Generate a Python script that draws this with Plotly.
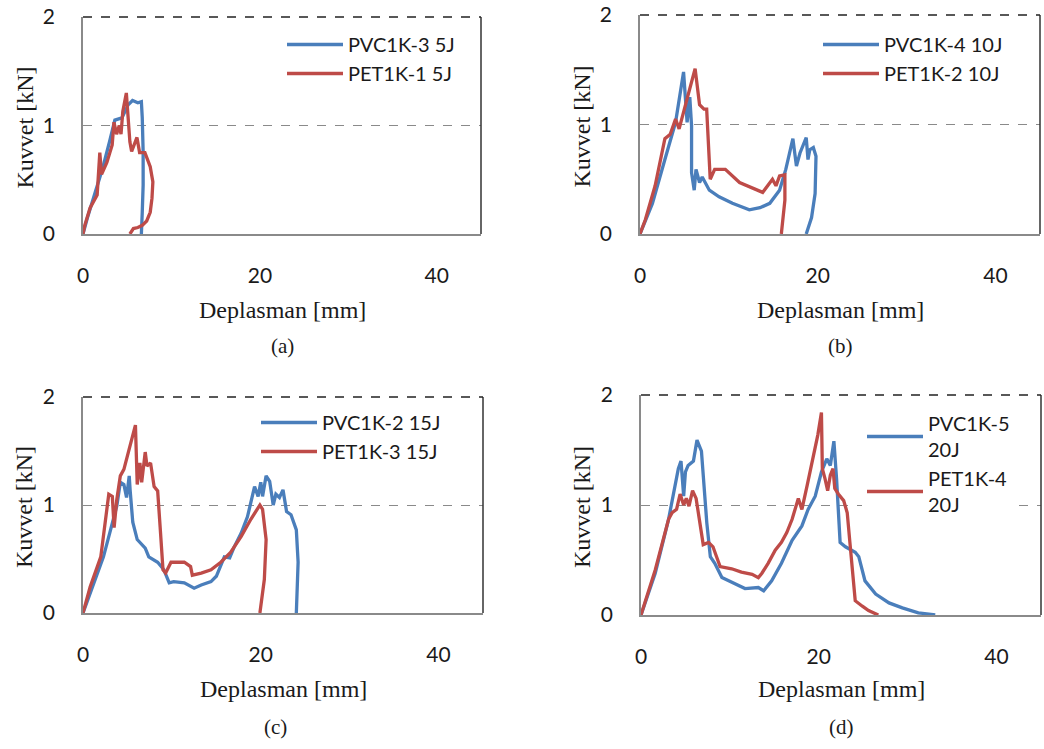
import plotly.graph_objects as go

# (a) 5J
a_pvc_x = [0, 0.5, 1.4, 2.2, 3.0, 3.6, 4.4, 5.1, 5.6, 6.2, 6.6, 6.7, 6.8, 6.8, 6.7, 6.6]
a_pvc_y = [0, 0.15, 0.39, 0.6, 0.85, 1.05, 1.07, 1.19, 1.23, 1.21, 1.22, 1.07, 0.76, 0.45, 0.2, 0]
a_pet_x = [0, 0.2, 0.8, 1.6, 1.9, 2.1, 2.7, 3.3, 3.5, 3.8, 4.1, 4.3, 4.5, 4.9, 5.3, 5.5, 6.1,
           6.4, 7.0, 7.6, 7.9, 7.8, 7.6, 7.2, 6.7, 6.2, 5.7, 5.3]
a_pet_y = [0, 0.08, 0.24, 0.36, 0.75, 0.55, 0.66, 0.82, 1.03, 0.92, 1.0, 0.92, 1.13, 1.3, 0.85,
           0.76, 0.89, 0.75, 0.75, 0.62, 0.48, 0.33, 0.2, 0.12, 0.08, 0.06, 0.05, 0]

# (b) 10J
b_pvc_x = [0, 1.4, 2.8, 4.0, 4.9, 5.1, 5.3, 5.6, 5.8, 5.8, 6.1, 6.3, 6.7, 7.0, 7.8, 8.9, 10.4,
           12.3, 13.5, 14.6, 15.7, 16.4, 17.2, 17.6, 18.0, 18.7, 18.9, 19.1, 19.5, 19.8, 19.7,
           19.3, 18.7]
b_pvc_y = [0, 0.28, 0.68, 1.02, 1.48, 1.24, 1.02, 1.25, 0.99, 0.56, 0.4, 0.59, 0.47, 0.52, 0.4,
           0.34, 0.28, 0.22, 0.24, 0.28, 0.4, 0.59, 0.87, 0.62, 0.74, 0.88, 0.68, 0.77, 0.79,
           0.71, 0.37, 0.15, 0]
b_pet_x = [0, 0.6, 1.7, 2.8, 3.4, 4.0, 4.4, 4.8, 5.5, 6.2, 6.7, 7.2, 7.5, 7.8, 7.9, 8.4, 9.6,
           11.2, 13.0, 13.8, 14.9, 15.3, 15.7, 16.3, 16.3, 15.9]
b_pet_y = [0, 0.13, 0.44, 0.87, 0.91, 1.05, 0.96, 1.08, 1.3, 1.51, 1.18, 1.14, 1.14, 0.59, 0.5,
           0.59, 0.59, 0.47, 0.41, 0.38, 0.5, 0.44, 0.53, 0.54, 0.31, 0]

# (c) 15J
c_pvc_x = [0, 1.2, 2.3, 3.1, 3.8, 4.2, 4.6, 4.9, 5.2, 5.3, 5.6, 6.1, 6.7, 7.0, 7.4, 8.4, 9.1,
           9.7, 10.2, 11.4, 12.5, 13.3, 14.4, 15.0, 15.9, 16.5, 17.0, 17.8, 18.5, 19.3, 19.7,
           20.0, 20.2, 20.6, 21.0, 21.4, 21.7, 22.1, 22.5, 22.9, 23.4, 24.0, 24.2, 24.0]
c_pvc_y = [0, 0.28, 0.52, 0.77, 0.99, 1.21, 1.19, 1.07, 1.27, 1.14, 0.84, 0.68, 0.62, 0.6, 0.52,
           0.47, 0.4, 0.28, 0.29, 0.28, 0.23, 0.26, 0.29, 0.34, 0.52, 0.51, 0.61, 0.74, 0.89,
           1.17, 1.08, 1.21, 1.08, 1.27, 1.22, 1.0, 1.1, 1.07, 1.14, 0.94, 0.91, 0.77, 0.47, 0]
c_pet_x = [0, 0.8, 2.0, 2.9, 3.3, 3.5, 3.8, 4.2, 4.6, 5.2, 5.9, 6.1, 6.4, 6.6, 7.0, 7.2, 7.6,
           8.0, 8.4, 8.7, 9.0, 9.3, 9.9, 11.4, 12.1, 12.3, 13.3, 14.4, 15.5, 16.6, 17.8, 18.9,
           19.9, 20.2, 20.6, 20.4, 19.9]
c_pet_y = [0, 0.24, 0.52, 1.1, 1.08, 0.79, 1.05, 1.27, 1.33, 1.52, 1.74, 1.19, 1.39, 1.21, 1.49,
           1.36, 1.39, 1.17, 1.13, 0.77, 0.4, 0.37, 0.47, 0.47, 0.43, 0.35, 0.37, 0.4, 0.47,
           0.56, 0.71, 0.87, 1.0, 0.96, 0.68, 0.31, 0]

# (d) 20J
d_pvc_x = [0, 1.6, 3.1, 3.6, 4.2, 4.5, 4.8, 5.0, 5.3, 5.9, 6.3, 6.8, 7.2, 7.4, 7.8, 8.3, 9.1,
           10.5, 11.7, 13.2, 13.8, 14.7, 15.8, 17.0, 18.1, 18.8, 19.6, 20.3, 20.9, 21.3, 21.7,
           22.0, 22.4, 23.0, 24.1, 24.5, 25.2, 26.4, 27.9, 29.4, 31.2, 33.1]
d_pvc_y = [0, 0.38, 0.87, 1.08, 1.33, 1.4, 1.08, 1.3, 1.36, 1.4, 1.59, 1.49, 1.08, 0.84, 0.53,
           0.47, 0.34, 0.29, 0.24, 0.25, 0.22, 0.31, 0.47, 0.68, 0.81, 0.96, 1.08, 1.3, 1.42,
           1.36, 1.58, 1.24, 0.66, 0.62, 0.57, 0.53, 0.31, 0.19, 0.11, 0.065, 0.02, 0]
d_pet_x = [0, 1.6, 3.1, 3.5, 4.0, 4.4, 4.8, 5.1, 5.4, 5.8, 6.2, 6.6, 7.0, 7.6, 8.1, 8.5, 8.9,
           10.2, 11.3, 12.5, 13.2, 13.6, 14.3, 15.1, 15.8, 16.4, 17.0, 17.7, 18.1, 18.7, 19.2,
           19.9, 20.3, 20.4, 20.7, 21.0, 21.3, 21.6, 21.8, 22.2, 22.8, 23.2, 23.5, 23.9, 24.1,
           24.9, 25.6, 26.7]
d_pet_y = [0, 0.41, 0.87, 0.93, 0.96, 1.1, 1.0, 1.06, 0.99, 1.13, 1.06, 0.84, 0.64, 0.66, 0.62,
           0.53, 0.44, 0.42, 0.39, 0.37, 0.34, 0.38, 0.47, 0.59, 0.66, 0.75, 0.87, 1.06, 0.96,
           1.18, 1.36, 1.64, 1.84, 1.33, 1.24, 1.13, 1.27, 1.33, 1.15, 1.1, 1.04, 0.93, 0.66,
           0.31, 0.13, 0.08, 0.04, 0]

panels = [
    ("(a)", a_pvc_x, a_pvc_y, "PVC1K-3 5J", a_pet_x, a_pet_y, "PET1K-1 5J"),
    ("(b)", b_pvc_x, b_pvc_y, "PVC1K-4 10J", b_pet_x, b_pet_y, "PET1K-2 10J"),
    ("(c)", c_pvc_x, c_pvc_y, "PVC1K-2 15J", c_pet_x, c_pet_y, "PET1K-3 15J"),
    ("(d)", d_pvc_x, d_pvc_y, "PVC1K-5<br>20J", d_pet_x, d_pet_y, "PET1K-4<br>20J"),
]

W, H = 1044, 749
BLUE = "#4a7ebb"
RED = "#be4b48"
AXIS_GRAY = "#8a8a8a"
SERIF = "Liberation Serif, serif"
SANS = "Lato, Carlito, sans-serif"

# plot area boxes in pixels: left, right, top, bottom
boxes = [(83, 481, 17, 234), (640, 1040, 15, 234), (83, 483, 397, 613), (641, 1041, 395, 615)]
legend_pos = [(282, 25), (818, 25), (256, 403), (862, 404)]

fig = go.Figure()
layout = dict(
    width=W, height=H,
    margin=dict(l=0, r=0, t=0, b=0),
    paper_bgcolor="white", plot_bgcolor="white",
    font=dict(family=SANS, color="#1a1a1a"),
    annotations=[], shapes=[],
)

for i, (cap, px, py, pname, ex, ey, ename) in enumerate(panels):
    n = "" if i == 0 else str(i + 1)
    xa, ya = "x" + n, "y" + n
    leg = "legend" + n
    l, r, t, b = boxes[i]
    fig.add_trace(go.Scatter(x=px, y=py, mode="lines", name=pname, legend=leg,
                             line=dict(color=BLUE, width=3.3), xaxis=xa, yaxis=ya))
    fig.add_trace(go.Scatter(x=ex, y=ey, mode="lines", name=ename, legend=leg,
                             line=dict(color=RED, width=3.3), xaxis=xa, yaxis=ya))

    layout["xaxis" + n] = dict(
        domain=[l / W, r / W], anchor=ya, range=[0, 45], tickvals=[0, 20, 40],
        showgrid=False, zeroline=False, showline=True, linecolor=AXIS_GRAY, linewidth=1.5,
        ticks="", ticklabelstandoff=22, automargin=False,
        tickfont=dict(family=SANS, size=21, color="#1a1a1a"),
    )
    layout["yaxis" + n] = dict(
        domain=[1 - b / H, 1 - t / H], anchor=xa, range=[0, 2], tickvals=[0, 1, 2],
        showgrid=True, gridcolor=AXIS_GRAY, griddash="dash", gridwidth=1.3,
        zeroline=False, showline=True, linecolor=AXIS_GRAY, linewidth=1.5,
        ticks="", ticklabelstandoff=22, automargin=False,
        tickfont=dict(family=SANS, size=21, color="#1a1a1a"),
    )
    lx, ly = legend_pos[i]
    layout[leg] = dict(
        x=lx / W, y=1 - ly / H, xanchor="left", yanchor="top",
        bgcolor="white", borderwidth=0, tracegroupgap=0, itemwidth=56,
        font=dict(family=SANS, size=20, color="#1a1a1a"),
    )
    # frame: dark right edge and dashed top edge
    layout["shapes"].append(dict(type="line", xref="paper", yref="paper",
                                 x0=r / W, x1=r / W, y0=1 - b / H, y1=1 - t / H,
                                 line=dict(color="#333333", width=1.5)))
    layout["shapes"].append(dict(type="line", xref="paper", yref="paper",
                                 x0=l / W, x1=r / W, y0=1 - t / H, y1=1 - t / H,
                                 line=dict(color="#222222", width=1.6, dash="dash")))

    cx = (l + r) / 2
    layout["annotations"] += [
        dict(text="Deplasman [mm]", x=cx / W, y=1 - 310 / H if i < 2 else 1 - 689 / H,
             xref="paper", yref="paper", showarrow=False, xanchor="center", yanchor="middle",
             font=dict(family=SERIF, size=24, color="#1a1a1a")),
        dict(text=cap, x=(cx - (8 if i == 2 else 0)) / W,
             y=1 - 346 / H if i < 2 else 1 - 727 / H,
             xref="paper", yref="paper", showarrow=False, xanchor="center", yanchor="middle",
             font=dict(family=SERIF, size=21, color="#1a1a1a")),
        dict(text="Kuvvet [kN]", x=(l - 59) / W, y=1 - ((t + b) / 2 + 2) / H,
             xref="paper", yref="paper", showarrow=False, textangle=-90,
             xanchor="center", yanchor="middle",
             font=dict(family=SERIF, size=24, color="#1a1a1a")),
    ]

fig.update_layout(**layout)
# drop the default page margin so the figure sits at the window's top-left corner
fig.write_html("out.html", config={"displayModeBar": False},
               post_script="document.body.style.margin='0px';")
